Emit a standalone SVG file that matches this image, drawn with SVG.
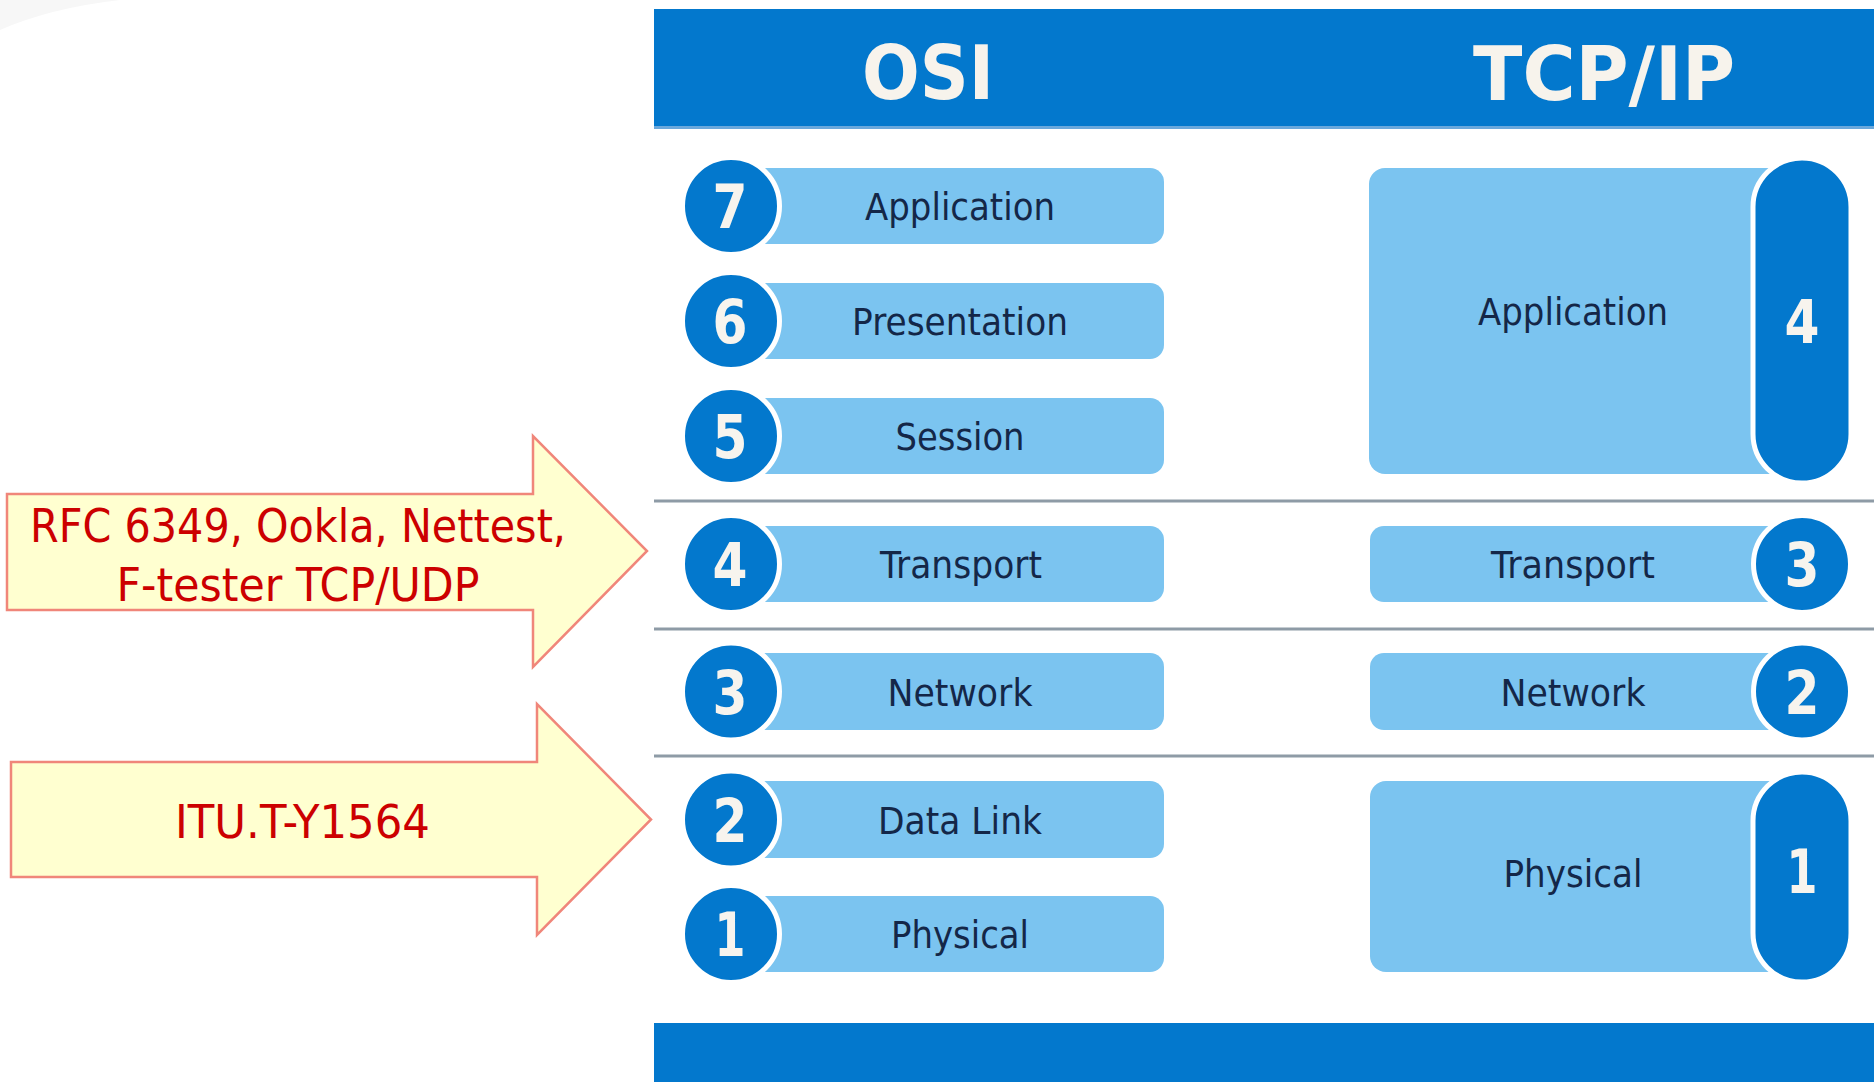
<svg xmlns="http://www.w3.org/2000/svg" width="1874" height="1082" viewBox="0 0 1874 1082">
  <style>
    .band { fill: #0378CD; }
    .bar { fill: #7BC4F0; }
    .num { fill: #0378CD; stroke: #FFFFFF; stroke-width: 5; }
    .sep { stroke: #8E9BA6; stroke-width: 3; }
    .lbl { font-family: "DejaVu Sans", "Liberation Sans", sans-serif; font-size: 37px; fill: #142748; text-anchor: middle; }
    .dig { font-family: "DejaVu Sans", "Liberation Sans", sans-serif; font-size: 60px; font-weight: bold; fill: #F7F4EE; text-anchor: middle; }
    .hdr { font-family: "DejaVu Sans", "Liberation Sans", sans-serif; font-size: 74px; font-weight: bold; fill: #F7F3EC; text-anchor: middle; }
    .arrow { fill: #FFFFD0; stroke: #F0867A; stroke-width: 2.5; stroke-linejoin: miter; }
    .atxt { font-family: "DejaVu Sans", "Liberation Sans", sans-serif; font-size: 46px; fill: #CC0000; text-anchor: middle; }
  </style>
  <rect x="0" y="0" width="1874" height="1082" fill="#FFFFFF"/>
  <path d="M0,30 Q50,8 120,0 L0,0 Z" fill="#F7F7F7"/>

  <!-- header and footer bands -->
  <g id="header">
    <rect class="band" x="654" y="9" width="1220" height="119"/>
    <rect x="654" y="126" width="1220" height="3" fill="#6AA8DC"/>
    <text class="hdr" x="928" y="99" textLength="132" lengthAdjust="spacingAndGlyphs">OSI</text>
    <text class="hdr" x="1604" y="100" textLength="262" lengthAdjust="spacingAndGlyphs">TCP/IP</text>
  </g>
  <g id="footer">
    <rect class="band" x="654" y="1023" width="1220" height="59"/>
  </g>

  <g id="separators">
    <line class="sep" x1="654" y1="501" x2="1874" y2="501"/>
    <line class="sep" x1="654" y1="629" x2="1874" y2="629"/>
    <line class="sep" x1="654" y1="756" x2="1874" y2="756"/>
  </g>

  <!-- OSI layers -->
  <g id="osi-7">
    <rect class="bar" x="740" y="168" width="424" height="76" rx="14"/>
    <circle class="num" cx="731" cy="206" r="48.5"/>
    <text class="dig" x="730" y="228" textLength="35" lengthAdjust="spacingAndGlyphs">7</text>
    <text class="lbl" x="960" y="220" textLength="190" lengthAdjust="spacingAndGlyphs">Application</text>
  </g>
  <g id="osi-6">
    <rect class="bar" x="740" y="283" width="424" height="76" rx="14"/>
    <circle class="num" cx="731" cy="321" r="48.5"/>
    <text class="dig" x="730" y="343" textLength="35" lengthAdjust="spacingAndGlyphs">6</text>
    <text class="lbl" x="960" y="335" textLength="216" lengthAdjust="spacingAndGlyphs">Presentation</text>
  </g>
  <g id="osi-5">
    <rect class="bar" x="740" y="398" width="424" height="76" rx="14"/>
    <circle class="num" cx="731" cy="436" r="48.5"/>
    <text class="dig" x="730" y="458" textLength="35" lengthAdjust="spacingAndGlyphs">5</text>
    <text class="lbl" x="960" y="450" textLength="129" lengthAdjust="spacingAndGlyphs">Session</text>
  </g>
  <g id="osi-4">
    <rect class="bar" x="740" y="526" width="424" height="76" rx="14"/>
    <circle class="num" cx="731" cy="564" r="48.5"/>
    <text class="dig" x="730" y="586" textLength="35" lengthAdjust="spacingAndGlyphs">4</text>
    <text class="lbl" x="961" y="578" textLength="162" lengthAdjust="spacingAndGlyphs">Transport</text>
  </g>
  <g id="osi-3">
    <rect class="bar" x="740" y="653" width="424" height="77" rx="14"/>
    <circle class="num" cx="731" cy="691.5" r="48.5"/>
    <text class="dig" x="730" y="713.5" textLength="35" lengthAdjust="spacingAndGlyphs">3</text>
    <text class="lbl" x="960" y="705.5" textLength="145" lengthAdjust="spacingAndGlyphs">Network</text>
  </g>
  <g id="osi-2">
    <rect class="bar" x="740" y="781" width="424" height="77" rx="14"/>
    <circle class="num" cx="731" cy="819.5" r="48.5"/>
    <text class="dig" x="730" y="841.5" textLength="35" lengthAdjust="spacingAndGlyphs">2</text>
    <text class="lbl" x="960" y="833.5" textLength="164" lengthAdjust="spacingAndGlyphs">Data Link</text>
  </g>
  <g id="osi-1">
    <rect class="bar" x="740" y="896" width="424" height="76" rx="14"/>
    <circle class="num" cx="731" cy="934" r="48.5"/>
    <text class="dig" x="730" y="956" textLength="31" lengthAdjust="spacingAndGlyphs">1</text>
    <text class="lbl" x="960" y="948" textLength="138" lengthAdjust="spacingAndGlyphs">Physical</text>
  </g>

  <!-- TCP/IP layers -->
  <g id="tcp-4">
    <rect class="bar" x="1369" y="168" width="420" height="306" rx="16"/>
    <rect class="num" x="1753" y="158" width="98" height="325" rx="49"/>
    <text class="dig" x="1802" y="343" textLength="35" lengthAdjust="spacingAndGlyphs">4</text>
    <text class="lbl" x="1573" y="325" textLength="190" lengthAdjust="spacingAndGlyphs">Application</text>
  </g>
  <g id="tcp-3">
    <rect class="bar" x="1370" y="526" width="420" height="76" rx="14"/>
    <circle class="num" cx="1802" cy="564" r="48.5"/>
    <text class="dig" x="1802" y="586" textLength="35" lengthAdjust="spacingAndGlyphs">3</text>
    <text class="lbl" x="1573" y="578" textLength="164" lengthAdjust="spacingAndGlyphs">Transport</text>
  </g>
  <g id="tcp-2">
    <rect class="bar" x="1370" y="653" width="420" height="77" rx="14"/>
    <circle class="num" cx="1802" cy="691.5" r="48.5"/>
    <text class="dig" x="1802" y="713.5" textLength="35" lengthAdjust="spacingAndGlyphs">2</text>
    <text class="lbl" x="1573" y="705.5" textLength="145" lengthAdjust="spacingAndGlyphs">Network</text>
  </g>
  <g id="tcp-1">
    <rect class="bar" x="1370" y="781" width="420" height="191" rx="16"/>
    <rect class="num" x="1753" y="772" width="98" height="210" rx="49"/>
    <text class="dig" x="1802" y="893" textLength="31" lengthAdjust="spacingAndGlyphs">1</text>
    <text class="lbl" x="1573" y="887" textLength="139" lengthAdjust="spacingAndGlyphs">Physical</text>
  </g>

  <!-- callout arrows -->
  <g id="connectors">
    <g id="arrow-rfc">
      <polygon class="arrow" points="7,494 533,494 533,436 647,551 533,667 533,610 7,610"/>
      <text class="atxt" x="298" y="542" textLength="536" lengthAdjust="spacingAndGlyphs">RFC 6349, Ookla, Nettest,</text>
      <text class="atxt" x="298" y="601" textLength="363" lengthAdjust="spacingAndGlyphs">F-tester TCP/UDP</text>
    </g>
    <g id="arrow-itu">
      <polygon class="arrow" points="11,762 537,762 537,704 651,819.5 537,935 537,877 11,877"/>
      <text class="atxt" x="302.5" y="838" textLength="255" lengthAdjust="spacingAndGlyphs">ITU.T-Y1564</text>
    </g>
  </g>
</svg>
